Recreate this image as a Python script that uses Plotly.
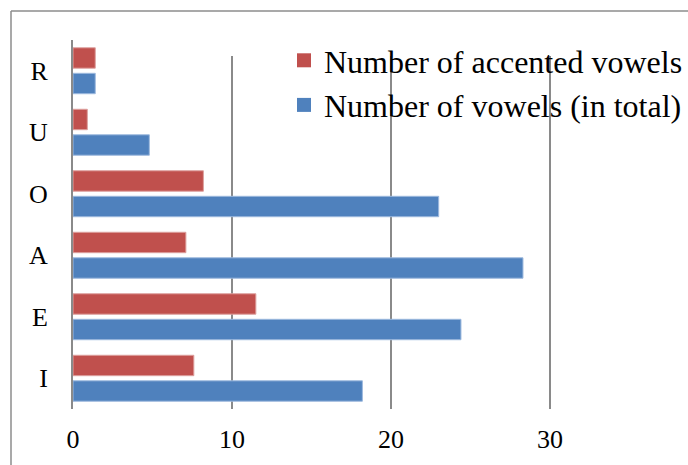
import plotly.graph_objects as go

# Vowels, listed bottom to top as they appear on the category axis
vowels = ["I", "E", "A", "O", "U", "R"]
total_vowels = [18.2, 24.4, 28.3, 23.0, 4.8, 1.4]
accented_vowels = [7.6, 11.5, 7.1, 8.2, 0.9, 1.4]
x_ticks = [0, 10, 20, 30]

series_names = ["Number of vowels (in total)", "Number of accented vowels"]
series_values = [total_vowels, accented_vowels]

RED = "#C0504D"
BLUE = "#4F81BD"
series_colors = [BLUE, RED]
series_edges = ["#9DB9DE", "#DDA09E"]
GRID = "#8A8A8A"
FONT = "Liberation Serif"

W, H = 688, 465
ML, MR, MT, MB = 73, 0, 40, 56
plot_w = W - ML - MR
plot_h = H - MT - MB
px_per_unit = 15.9
x_max = plot_w / px_per_unit

fig = go.Figure()
for name, vals, col, edge in zip(series_names, series_values,
                                 series_colors, series_edges):
    fig.add_trace(go.Bar(
        y=vowels, x=vals, orientation="h", name=name,
        marker=dict(color=col, line=dict(color=edge, width=1)),
        showlegend=False, legendgroup=name,
    ))
    # legend key: larger square swatch than the default bar icon
    fig.add_trace(go.Scatter(
        x=[None], y=[None], mode="markers", name=name, legendgroup=name,
        marker=dict(symbol="square", size=14, color=col),
        showlegend=True, hoverinfo="skip",
    ))

# vertical gridlines (stop a little below the top of the plot area)
grid_top = (plot_h - 16) / plot_h
shapes = []
for t in x_ticks[1:]:
    shapes.append(dict(type="line", xref="x", yref="paper", x0=t, x1=t,
                       y0=0, y1=grid_top, line=dict(color=GRID, width=2),
                       layer="below"))

# outer chart frame (left and top edges)
fx = (11 - ML) / plot_w
fy_top = 1 + (MT - 11) / plot_h
fy_bot = -(MB + 5) / plot_h
shapes.append(dict(type="line", xref="paper", yref="paper", x0=fx, x1=fx,
                   y0=fy_bot, y1=fy_top, line=dict(color="#8C8C8C", width=1.5)))
shapes.append(dict(type="line", xref="paper", yref="paper", x0=fx, x1=1.05,
                   y0=fy_top, y1=fy_top, line=dict(color="#8C8C8C", width=1.5)))

fig.update_layout(
    width=W, height=H,
    margin=dict(l=ML, r=MR, t=MT, b=MB, pad=0, autoexpand=False),
    paper_bgcolor="white", plot_bgcolor="white",
    barmode="group", bargap=0.17, bargroupgap=0.2,
    font=dict(family=FONT, color="black"),
    shapes=shapes,
    showlegend=True,
    legend=dict(
        x=(284 - ML) / plot_w, y=1 + (MT - 33) / plot_h,
        xanchor="left", yanchor="top",
        bgcolor="rgba(0,0,0,0)", traceorder="reversed",
        font=dict(family=FONT, size=32, color="black"),
        itemclick=False, itemsizing="trace",
    ),
)
fig.update_xaxes(
    range=[0, x_max], tickvals=x_ticks, ticktext=[str(t) for t in x_ticks],
    showgrid=False, zeroline=False, showline=False,
    tickfont=dict(family=FONT, size=26), ticks="", ticklabelstandoff=12,
)
fig.update_yaxes(
    type="category", categoryorder="array", categoryarray=vowels,
    range=[-0.5, len(vowels) - 0.5],
    showgrid=False, zeroline=False,
    showline=True, linecolor=GRID, linewidth=2,
    tickfont=dict(family=FONT, size=26), ticks="", ticklabelstandoff=18,
)

fig.write_html("out.html")
